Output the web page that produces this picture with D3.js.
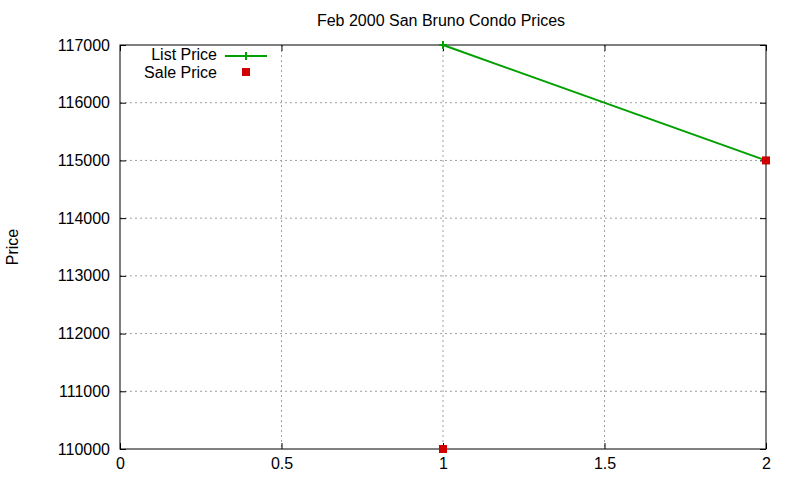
<!DOCTYPE html>
<html>
<head>
<meta charset="utf-8">
<script src="https://cdn.jsdelivr.net/npm/d3@7"></script>
<style>
body { margin: 0; background: #fff; }
text { font-family: "Liberation Sans", Arial, sans-serif; font-size: 16px; fill: #000; }
</style>
</head>
<body>
<div id="chart"></div>
<script>
var listX = [1, 2];
var listPrice = [117000, 115000];
var saleX = [1, 2];
var salePrice = [110000, 115000];
var xTicks = [0, 0.5, 1, 1.5, 2];
var yTicks = [110000, 111000, 112000, 113000, 114000, 115000, 116000, 117000];

var width = 800, height = 480;
var margin = { top: 45, right: 34, bottom: 31, left: 120 };
var w = width - margin.left - margin.right;
var h = height - margin.top - margin.bottom;

var svg = d3.select("#chart").append("svg")
    .attr("width", width)
    .attr("height", height);

var g = svg.append("g")
    .attr("transform", "translate(" + margin.left + "," + margin.top + ")");

var x = d3.scaleLinear().domain([0, 2]).range([0, w]);
var y = d3.scaleLinear().domain([110000, 117000]).range([h, 0]);

// grid
g.selectAll(".gx").data(xTicks.slice(1, -1)).enter().append("line")
    .attr("x1", function(d) { return x(d); })
    .attr("x2", function(d) { return x(d); })
    .attr("y1", 0).attr("y2", h)
    .attr("stroke", "#a0a0a0").attr("stroke-dasharray", "2,3");
g.selectAll(".gy").data(yTicks.slice(1, -1)).enter().append("line")
    .attr("y1", function(d) { return y(d); })
    .attr("y2", function(d) { return y(d); })
    .attr("x1", 0).attr("x2", w)
    .attr("stroke", "#a0a0a0").attr("stroke-dasharray", "2,3");

// axes (ticks inward, mirrored)
var xAxis = d3.axisBottom(x).tickValues(xTicks).tickSize(-6).tickPadding(9)
    .tickFormat(function(d) { return d; });
var yAxis = d3.axisLeft(y).tickValues(yTicks).tickSize(-6).tickPadding(10)
    .tickFormat(function(d) { return d; });
var xTop = d3.axisTop(x).tickValues(xTicks).tickSize(-6).tickFormat("");
var yRight = d3.axisRight(y).tickValues(yTicks).tickSize(-6).tickFormat("");

function styleAxis(sel) {
    sel.select(".domain").remove();
    sel.selectAll("line").attr("stroke", "#000");
    sel.selectAll("text").attr("font-family", "Liberation Sans, Arial, sans-serif")
        .attr("font-size", 16).attr("fill", "#000");
}
g.append("g").attr("transform", "translate(0," + h + ")").call(xAxis).call(styleAxis);
g.append("g").call(yAxis).call(styleAxis);
g.append("g").call(xTop).call(styleAxis);
g.append("g").attr("transform", "translate(" + w + ",0)").call(yRight).call(styleAxis);

g.append("rect").attr("x", 0).attr("y", 0).attr("width", w).attr("height", h)
    .attr("fill", "none").attr("stroke", "#000").attr("stroke-width", 1);

// list price line
var line = d3.line()
    .x(function(d, i) { return x(listX[i]); })
    .y(function(d) { return y(d); });
g.append("path").datum(listPrice)
    .attr("d", line)
    .attr("fill", "none").attr("stroke", "#00a000").attr("stroke-width", 2);

function plus(sel, cx, cy) {
    sel.append("path")
        .attr("d", "M" + (cx - 4) + "," + cy + "H" + (cx + 4) + "M" + cx + "," + (cy - 4) + "V" + (cy + 4))
        .attr("stroke", "#00a000").attr("stroke-width", 2).attr("fill", "none");
}
listPrice.forEach(function(d, i) { plus(g, x(listX[i]), y(d)); });

// sale price points
g.selectAll(".sale").data(salePrice).enter().append("rect")
    .attr("x", function(d, i) { return x(saleX[i]) - 4; })
    .attr("y", function(d) { return y(d) - 4; })
    .attr("width", 8).attr("height", 8)
    .attr("fill", "#d00000");

// legend
var leg = svg.append("g");
leg.append("text").attr("x", 217).attr("y", 60).attr("text-anchor", "end").text("List Price");
leg.append("line").attr("x1", 225).attr("x2", 267).attr("y1", 56).attr("y2", 56)
    .attr("stroke", "#00a000").attr("stroke-width", 2);
plus(leg, 246, 56);
leg.append("text").attr("x", 217).attr("y", 78).attr("text-anchor", "end").text("Sale Price");
leg.append("rect").attr("x", 242).attr("y", 68).attr("width", 8).attr("height", 8)
    .attr("fill", "#d00000");

// title and labels
svg.append("text").attr("x", 441).attr("y", 26).attr("text-anchor", "middle")
    .text("Feb 2000 San Bruno Condo Prices");
svg.append("text").attr("transform", "translate(18,247) rotate(-90)")
    .attr("text-anchor", "middle").text("Price");
</script>
</body>
</html>
